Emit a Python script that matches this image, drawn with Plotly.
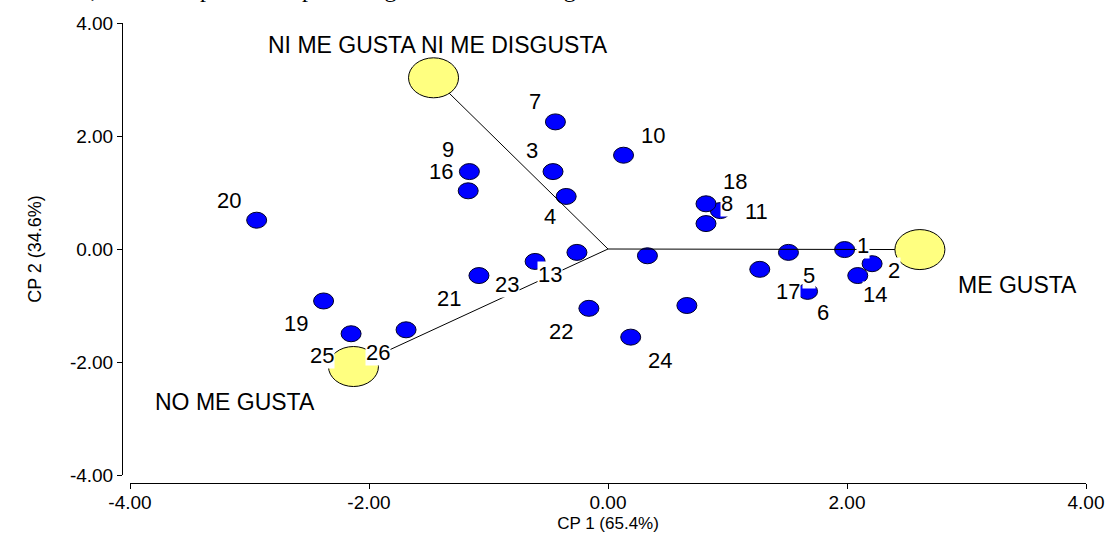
import plotly.graph_objects as go

# ---- data ----
point_ids = [1, 2, 3, 4, 5, 6, 7, 8, 9, 10, 11, 12, 13,
             14, 15, 16, 17, 18, 19, 20, 21, 22, 23, 24, 25, 26]
cp1 = [1.98, 2.21, -0.46, -0.35, 1.51, 1.67, -0.44, 0.82, -1.16, 0.13, 0.94, 0.33, -0.26,
       2.09, 0.66, -1.17, 1.27, 0.82, -2.38, -2.94, -1.08, -0.16, -0.61, 0.19, -2.15, -1.69]
cp2 = [-0.01, -0.26, 1.37, 0.93, -0.06, -0.75, 2.25, 0.45, 1.37, 1.66, 0.68, -0.12, -0.06,
       -0.47, -1.00, 1.03, -0.36, 0.80, -0.92, 0.51, -0.47, -1.05, -0.22, -1.56, -1.50, -1.43]
labelled = [1, 2, 3, 4, 5, 6, 7, 8, 9, 10, 11, 13, 14, 16, 17, 18, 19, 20, 21, 22, 23, 24, 25, 26]

categories = ["NI ME GUSTA NI ME DISGUSTA", "ME GUSTA", "NO ME GUSTA"]
cat_cp1 = [-1.46, 2.61, -2.13]
cat_cp2 = [3.03, -0.01, -2.08]

tick_vals = [-4, -2, 0, 2, 4]
tick_text = ["-4.00", "-2.00", "0.00", "2.00", "4.00"]
x_title = "CP 1 (65.4%)"
y_title = "CP 2 (34.6%)"
top_text = "obtenida, donde las preferidas por los agricultores de la región estudiada"

# ---- layout helpers (pixel offsets of labels, screen coords: +right, +down) ----
label_offset = {
    1: (18, -4), 2: (22, 7), 3: (-21, -21), 4: (-16, 20), 5: (21, 23), 6: (15, 21),
    7: (-20, -20), 8: (21, -20), 9: (-21, -22), 10: (29, -20), 11: (36, 1),
    13: (-27, 22), 14: (17, 19), 16: (-27, -19), 17: (28, 22), 18: (29, -22),
    19: (-28, 23), 20: (-28, -20), 21: (-30, 23), 22: (-28, 23), 23: (-28, 23),
    24: (29, 23), 25: (-29, 22), 26: (-28, 23),
}
no_bg = {9, 18}          # labels whose white box hides nothing
cat_offset = [(4, -33), (98, 35), (-118, 35)]

W, H = 1112, 533
ML, MR, MT, MB = 122, 26, 23, 50
PW = W - ML - MR
PH = H - MT - MB
FONT = "Liberation Sans, Arial, sans-serif"

fig = go.Figure()
# invisible trace so the axes are set up
fig.add_trace(go.Scatter(x=cp1, y=cp2, mode="markers", marker=dict(opacity=0),
                         hoverinfo="skip", showlegend=False))

shapes = []
for x, y in zip(cp1, cp2):
    shapes.append(dict(type="circle", xref="x", yref="y", xsizemode="pixel", ysizemode="pixel",
                       xanchor=x, yanchor=y, x0=-10, x1=10, y0=-8, y1=8,
                       fillcolor="#0000FF", line=dict(color="#00002a", width=1), layer="above"))
for cx, cy in zip(cat_cp1, cat_cp2):
    shapes.append(dict(type="line", xref="x", yref="y", x0=0, y0=0, x1=cx, y1=cy,
                       line=dict(color="black", width=1), layer="above"))
for cx, cy in zip(cat_cp1, cat_cp2):
    shapes.append(dict(type="circle", xref="x", yref="y", xsizemode="pixel", ysizemode="pixel",
                       xanchor=cx, yanchor=cy, x0=-25, x1=25, y0=-20, y1=20,
                       fillcolor="#FFFF80", line=dict(color="black", width=1), layer="above"))

annotations = []
for pid, x, y in zip(point_ids, cp1, cp2):
    if pid not in labelled:
        continue
    dx, dy = label_offset[pid]
    annotations.append(dict(x=x, y=y, xref="x", yref="y", text=str(pid), showarrow=False,
                            xshift=dx, yshift=-dy,
                            bgcolor="rgba(0,0,0,0)" if pid in no_bg else "white", borderpad=0,
                            font=dict(family=FONT, size=22, color="black")))
for name, cx, cy, (dx, dy) in zip(categories, cat_cp1, cat_cp2, cat_offset):
    annotations.append(dict(x=cx, y=cy, xref="x", yref="y", text=name, showarrow=False,
                            xshift=dx, yshift=-dy,
                            font=dict(family=FONT, size=23, color="black")))
# clipped line of body text at the very top of the page (cut off in the reference too)
annotations.append(dict(x=(6 - ML) / PW, y=(H - MB + 11) / PH, xref="paper", yref="paper",
                        xanchor="left", yanchor="middle", text=top_text, showarrow=False,
                        font=dict(family="Liberation Serif, Times New Roman, serif",
                                  size=24, color="black")))

fig.update_layout(
    width=W, height=H,
    margin=dict(l=ML, r=MR, t=MT, b=MB, autoexpand=False),
    paper_bgcolor="white", plot_bgcolor="white",
    showlegend=False,
    shapes=shapes, annotations=annotations,
    xaxis=dict(range=[-4, 4], domain=[8 / PW, 1], anchor="free", position=0,
               automargin=False,
               tickvals=tick_vals, ticktext=tick_text,
               showline=True, linecolor="black", linewidth=1,
               ticks="outside", ticklen=5, tickcolor="black",
               ticklabelstandoff=-3,
               showgrid=False, zeroline=False,
               tickfont=dict(family=FONT, size=19, color="black"),
               title=dict(text=x_title, font=dict(family=FONT, size=17, color="black"),
                          standoff=8)),
    yaxis=dict(range=[-4, 4], domain=[8 / PH, 1], anchor="free", position=0,
               automargin=False,
               tickvals=tick_vals, ticktext=tick_text,
               showline=True, linecolor="black", linewidth=1,
               ticks="outside", ticklen=5, tickcolor="black",
               showgrid=False, zeroline=False,
               tickfont=dict(family=FONT, size=19, color="black"),
               title=dict(text=y_title, font=dict(family=FONT, size=18, color="black"),
                          standoff=22)),
)

fig.write_html("out.html", config={"displayModeBar": False},
               post_script="document.body.style.margin='0';document.body.style.overflow='hidden';")
